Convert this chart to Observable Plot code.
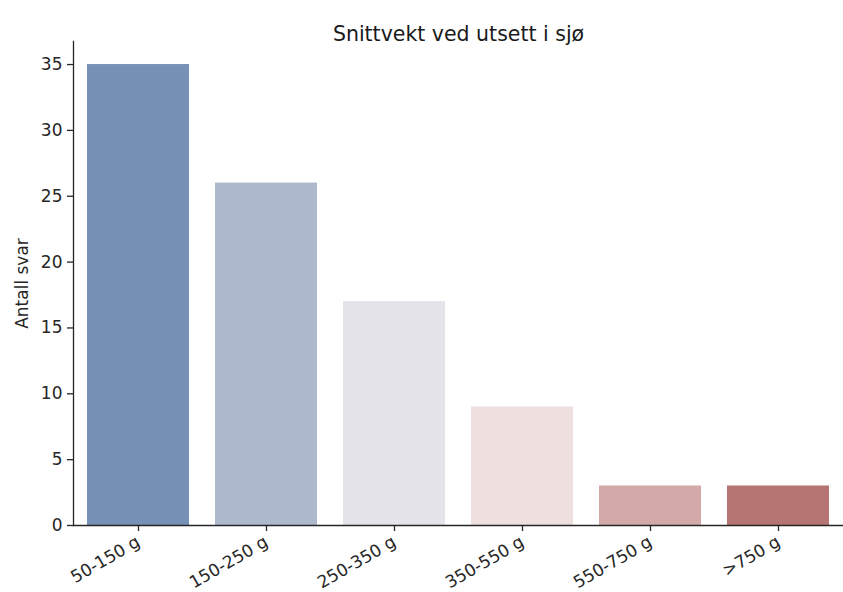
<!DOCTYPE html>
<html>
<head>
<meta charset="utf-8">
<script src="https://cdn.jsdelivr.net/npm/d3@7"></script>
<script src="https://cdn.jsdelivr.net/npm/@observablehq/plot@0.6"></script>
<style>
  html, body { margin: 0; padding: 0; background: #fff; }
  #chart svg { display: block; }
</style>
</head>
<body>
<div id="chart"></div>
<script>
const categories = ["50-150 g", "150-250 g", "250-350 g", "350-550 g", "550-750 g", ">750 g"];
const counts = [35, 26, 17, 9, 3, 3];
const colors = ["#7790B5", "#ACB8CB", "#E5E4EA", "#EFDFDF", "#D3A9A8", "#B67573"];
const yTicks = [0, 5, 10, 15, 20, 25, 30, 35];
const title = "Snittvekt ved utsett i sjø";
const yLabel = "Antall svar";

const data = categories.map((c, i) => ({category: c, count: counts[i], color: colors[i]}));

const font = "DejaVu Sans, sans-serif";
const plot = Plot.plot({
  width: 843,
  height: 592,
  marginLeft: 73,
  marginRight: 0,
  marginTop: 41,
  marginBottom: 67,
  style: {fontFamily: font, fontSize: "17px", color: "#262626", background: "#fff", overflow: "visible"},
  x: {domain: categories, paddingInner: 0.2, paddingOuter: 0.1, align: 0.5, label: null},
  y: {domain: [0, 36.75], label: null},
  marks: [
    Plot.barY(data, {x: "category", y: "count", fill: "color"}),
    Plot.frame({anchor: "left", stroke: "#262626", strokeWidth: 1.3}),
    Plot.frame({anchor: "bottom", stroke: "#262626", strokeWidth: 1.3}),
    Plot.axisY({ticks: yTicks, tickSize: 6, tickPadding: 5, label: null, fontSize: 17, stroke: "#262626", strokeWidth: 1.3}),
    Plot.axisX({tickSize: 6, tickPadding: 9, tickRotate: -30, label: null, fontSize: 17, stroke: "#262626", strokeWidth: 1.3}),
    Plot.text([yLabel], {frameAnchor: "left", textAnchor: "middle", dx: -50.5, rotate: -90, text: d => d, fontSize: 17, fill: "#262626"}),
    Plot.text([title], {frameAnchor: "top", dy: -15.5, text: d => d, fontSize: 20.5, fill: "#1a1a1a"})
  ]
});
document.getElementById("chart").appendChild(plot);
</script>
</body>
</html>
